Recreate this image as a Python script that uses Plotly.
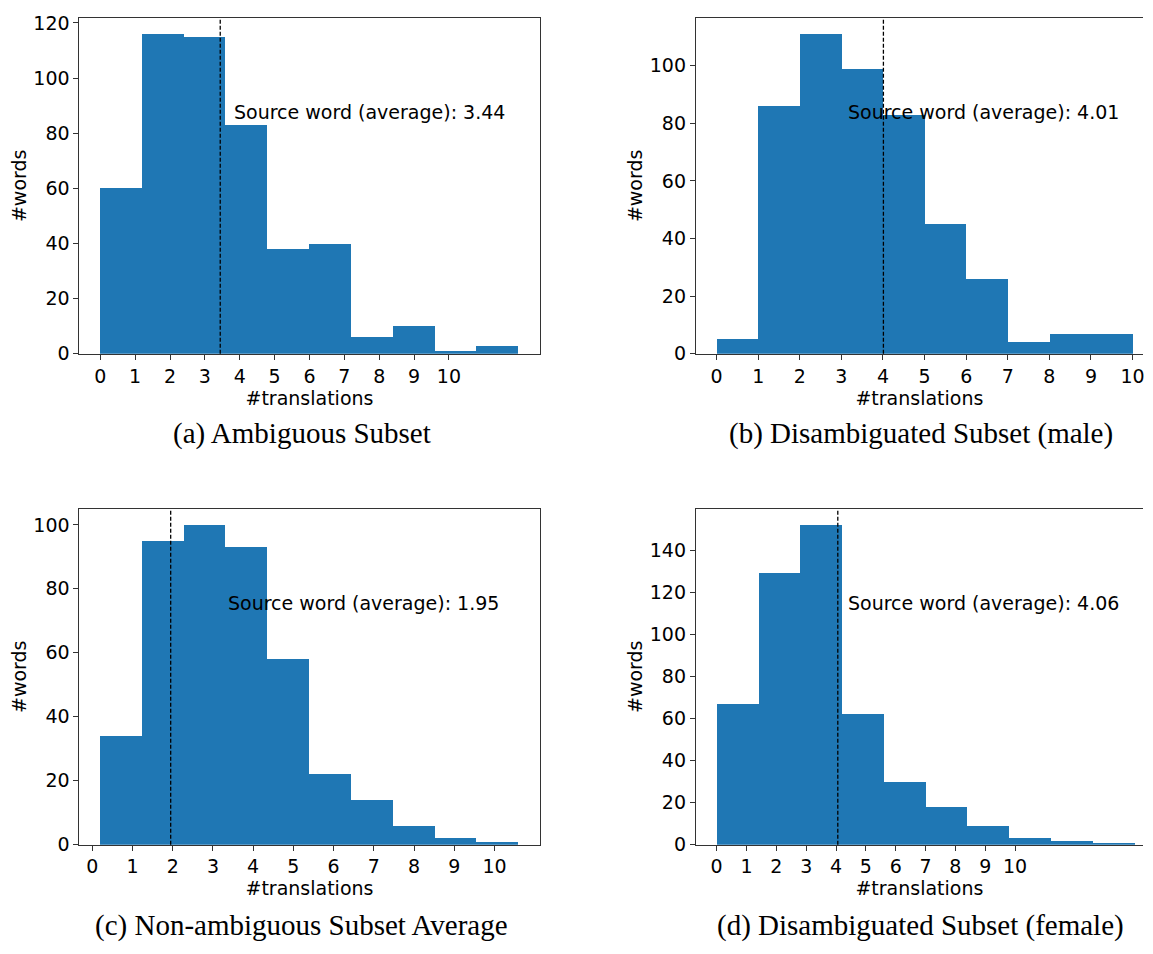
import plotly.graph_objects as go

# ---------------- data ----------------
counts_a = [60, 116, 115, 83, 38, 40, 6, 10, 1, 3]
edges_a = [0.0, 1.2, 2.4, 3.6, 4.8, 6.0, 7.2, 8.4, 9.6, 10.8, 12.0]
mean_a = 3.44

counts_b = [5, 86, 111, 99, 83, 45, 26, 4, 7, 7]
edges_b = [0, 1, 2, 3, 4, 5, 6, 7, 8, 9, 10]
mean_b = 4.01

counts_c = [34, 95, 100, 93, 58, 22, 14, 6, 2, 1]
edges_c = [0.2, 1.24, 2.28, 3.32, 4.36, 5.4, 6.44, 7.48, 8.52, 9.56, 10.6]
mean_c = 1.95

counts_d = [67, 129, 152, 62, 30, 18, 9, 3, 2, 1]
edges_d = [0.0, 1.4, 2.8, 4.2, 5.6, 7.0, 8.4, 9.8, 11.2, 12.6, 14.0]
mean_d = 4.06

x_ticks = [0, 1, 2, 3, 4, 5, 6, 7, 8, 9, 10]
captions = ["(a) Ambiguous Subset", "(b) Disambiguated Subset (male)",
            "(c) Non-ambiguous Subset Average", "(d) Disambiguated Subset (female)"]
label_text = "Source word (average): {:.2f}"

# ---------------- layout constants (pixels in the 1153x954 page) ----------------
PAGE_W, PAGE_H = 1153, 954
OFF = 8                      # default body margin of the html page
W, H = PAGE_W - 2 * OFF, PAGE_H - 2 * OFF
BLUE = "#1f77b4"
FONT = "DejaVu Sans"
FS = 19


def px_x(v):
    return (v - OFF) / W


def px_y(v):
    return 1 - (v - OFF) / H


panels = [
    dict(c=counts_a, e=edges_a, m=mean_a, xr=[-0.6, 12.6], xd=(79.5, 540.5), yd=(12, 354),
         tx=3.78, cap=(303, 435), yt=[0, 20, 40, 60, 80, 100, 120], mirror=True),
    dict(c=counts_b, e=edges_b, m=mean_b, xr=[-0.5, 10.25], xd=(697, 1145), yd=(12, 354),
         tx=3.11, cap=(923, 435), yt=[0, 20, 40, 60, 80, 100], mirror=False),
    dict(c=counts_c, e=edges_c, m=mean_c, xr=[-0.32, 11.12], xd=(79.5, 540.5), yd=(512, 854),
         tx=3.32, cap=(302, 936), yt=[0, 20, 40, 60, 80, 100], mirror=True),
    dict(c=counts_d, e=edges_d, m=mean_d, xr=[-0.7, 14.29], xd=(697, 1145), yd=(512, 854),
         tx=4.32, cap=(922, 936), yt=[0, 20, 40, 60, 80, 100, 120, 140], mirror=False),
]

fig = go.Figure()
layout = dict(width=W, height=H, margin=dict(l=0, r=0, t=0, b=0),
              paper_bgcolor="white", plot_bgcolor="white", showlegend=False,
              bargap=0, shapes=[], annotations=[])

for i, p in enumerate(panels, start=1):
    xa = "x" if i == 1 else f"x{i}"
    ya = "y" if i == 1 else f"y{i}"
    centers = [(p["e"][k] + p["e"][k + 1]) / 2 for k in range(len(p["c"]))]
    widths = [p["e"][k + 1] - p["e"][k] for k in range(len(p["c"]))]
    fig.add_trace(go.Bar(x=centers, y=p["c"], width=widths, marker=dict(color=BLUE, line=dict(width=0)),
                         xaxis=xa, yaxis=ya, hoverinfo="x+y"))
    ymax = max(p["c"]) * 1.05
    kx = "xaxis" if i == 1 else f"xaxis{i}"
    ky = "yaxis" if i == 1 else f"yaxis{i}"
    layout[kx] = dict(domain=[px_x(p["xd"][0]), px_x(p["xd"][1])], range=p["xr"], anchor=ya,
                      tickmode="array", tickvals=x_ticks, ticktext=[str(t) for t in x_ticks],
                      ticks="outside", ticklen=5, tickwidth=1, tickcolor="#333",
                      showline=True, linecolor="#333", linewidth=1, mirror=True,
                      showgrid=False, zeroline=False, ticklabeloverflow="allow",
                      tickfont=dict(family=FONT, size=FS, color="black"),
                      title=dict(text="#translations", font=dict(family=FONT, size=FS, color="black"), standoff=2))
    layout[ky] = dict(domain=[px_y(p["yd"][1]), px_y(p["yd"][0])], range=[0, ymax], anchor=xa,
                      tickmode="array", tickvals=p["yt"],
                      ticks="outside", ticklen=5, tickwidth=1, tickcolor="#333",
                      showline=True, linecolor="#333", linewidth=1, mirror=p["mirror"],
                      showgrid=False, zeroline=False, ticklabeloverflow="allow",
                      tickfont=dict(family=FONT, size=FS, color="black"),
                      title=dict(text="#words", font=dict(family=FONT, size=FS, color="black"), standoff=2))
    layout["shapes"].append(dict(type="line", xref=xa, yref=f"{ya} domain", x0=p["m"], x1=p["m"], y0=0, y1=1,
                                 line=dict(color="black", width=1.3, dash="4px,2px")))
    layout["annotations"].append(dict(x=p["tx"], y=0.72, xref=xa, yref=f"{ya} domain", text=label_text.format(p["m"]),
                                      showarrow=False, xanchor="left", yanchor="middle",
                                      font=dict(family=FONT, size=FS, color="black")))
    layout["annotations"].append(dict(x=px_x(p["cap"][0]), y=px_y(p["cap"][1]), xref="paper", yref="paper",
                                      text=captions[i - 1], showarrow=False, xanchor="center", yanchor="middle",
                                      font=dict(family="Liberation Serif", size=29, color="black")))

fig.update_layout(**layout)
fig.write_html("out.html", config={"displayModeBar": False})
